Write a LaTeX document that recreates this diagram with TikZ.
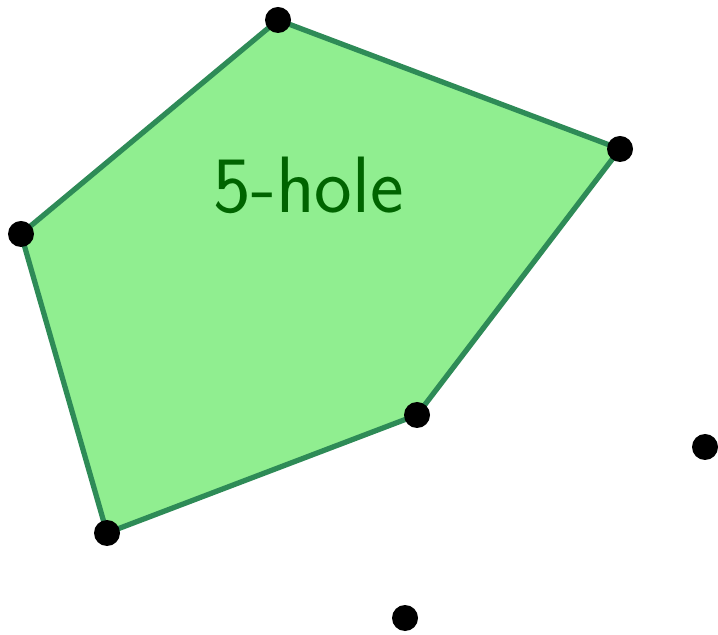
\documentclass[tikz,border=0pt]{standalone}
\usepackage{tikz}
\usetikzlibrary{backgrounds}
\definecolor{holefill}{HTML}{90EE90}
\definecolor{holeedge}{HTML}{2E8B57}
\definecolor{holetext}{HTML}{006400}

\begin{document}
\begin{tikzpicture}[
  pt/.style={circle,fill=black,inner sep=0pt,minimum size=0.52cm},
  hole/.style={fill=holefill,draw=holeedge,line width=3pt,line join=round}]
\useasboundingbox (0,0) rectangle (14.36,12.68);
% points of the set
\coordinate (p1) at (5.56,12.28);
\coordinate (p2) at (12.40,9.70);
\coordinate (p3) at (8.34,4.38);
\coordinate (p4) at (2.14,2.02);
\coordinate (p5) at (0.42,8.00);
\coordinate (q1) at (14.10,3.74);
\coordinate (q2) at (8.10,0.32);
% the empty pentagon
\draw[hole] (p1)--(p2)--(p3)--(p4)--(p5)--cycle;
\node[text=holetext,font=\sffamily\fontsize{45.5}{48}\selectfont] (lbl) at (6.17,8.97) {5-hole};
\foreach \p in {p1,p2,p3,p4,p5,q1,q2}
  \node[pt] (d\p) at (\p) {};
\end{tikzpicture}
\end{document}
